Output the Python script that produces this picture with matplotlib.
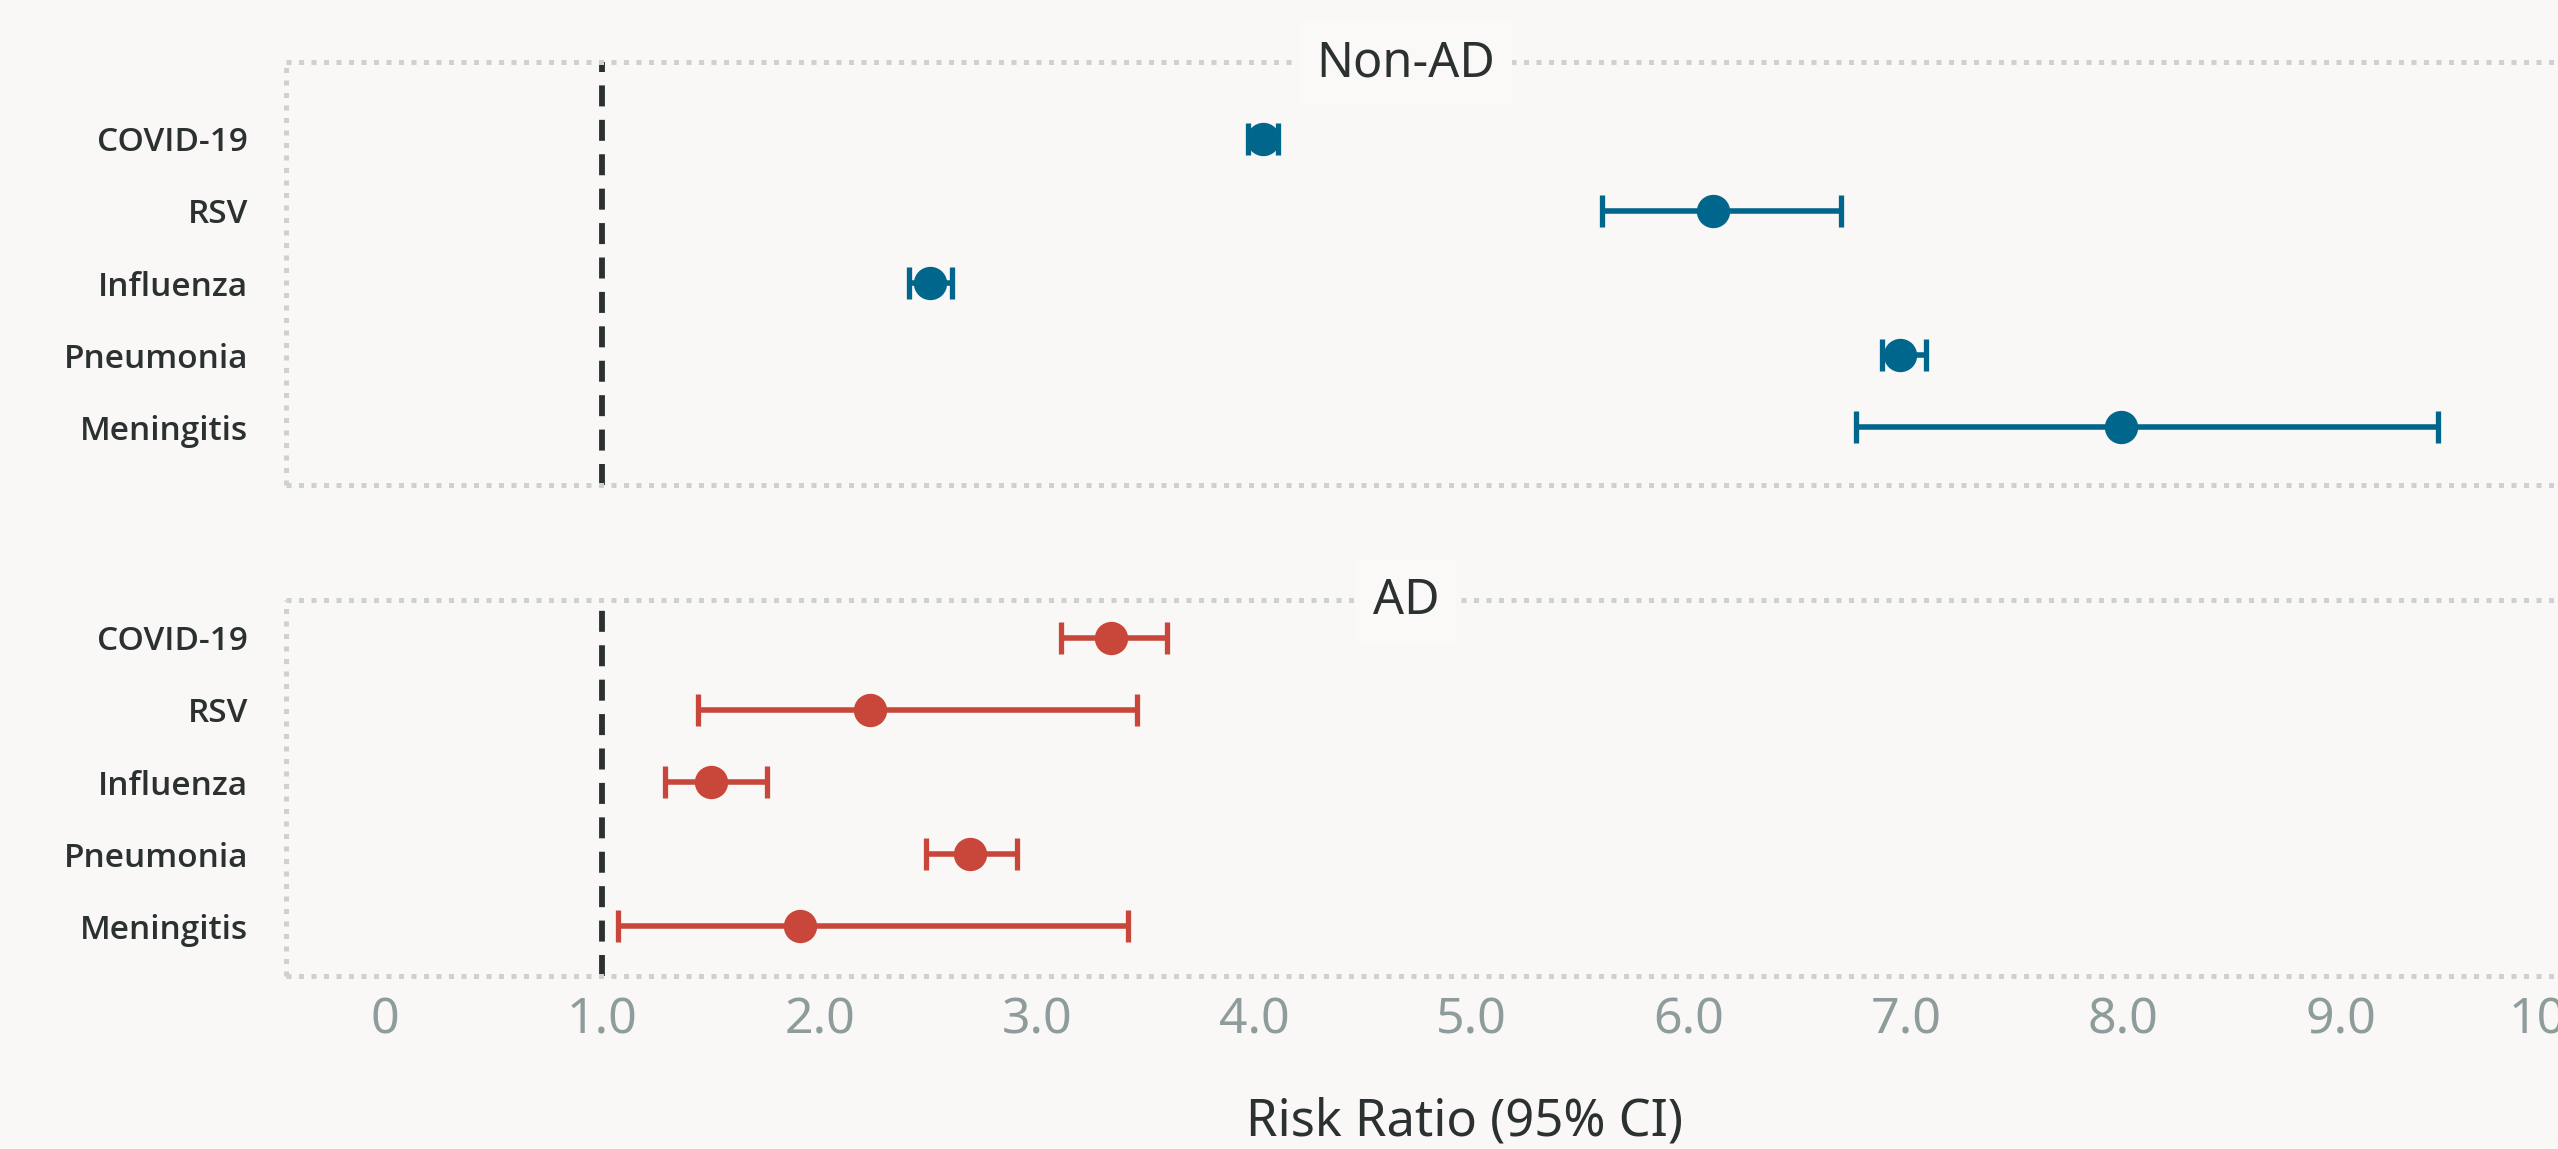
import numpy as np
import matplotlib
matplotlib.use("Agg")
import matplotlib.pyplot as plt

categories = ["COVID-19", "RSV", "Influenza", "Pneumonia", "Meningitis"]
nonad_rr = [4.04, 6.11, 2.51, 6.97, 7.99]
nonad_lo = [3.97, 5.60, 2.41, 6.89, 6.77]
nonad_hi = [4.11, 6.70, 2.61, 7.09, 9.45]
ad_rr = [3.34, 2.23, 1.50, 2.69, 1.91]
ad_lo = [3.11, 1.44, 1.29, 2.49, 1.07]
ad_hi = [3.60, 3.46, 1.76, 2.91, 3.42]
xticks = [0, 1, 2, 3, 4, 5, 6, 7, 8, 9, 10]
xticklabels = ["0", "1.0", "2.0", "3.0", "4.0", "5.0", "6.0", "7.0", "8.0", "9.0", "10.0"]
panel_titles = ["Non-AD", "AD"]

BG = "#F9F8F7"
BLUE = "#00668C"
RED = "#C8473A"
DARK = "#2B3030"
GRAYTXT = "#8E9C9C"
DOT = "#CDD1D1"

plt.rcParams['font.family'] = ['Noto Sans', 'DejaVu Sans']

fig = plt.figure(figsize=(25.58, 11.49), dpi=100, facecolor=BG)
left = 285.5 / 2558
ax_top = fig.add_axes([left, 0.5783, 1.0 - left, 0.946 - 0.5783])
ax_bot = fig.add_axes([left, 0.1509, 1.0 - left, 0.4778 - 0.1509])

def draw(ax, rr, lo, hi, color, ylim, title, show_x):
    ax.set_facecolor(BG)
    rr = np.array(rr); lo = np.array(lo); hi = np.array(hi)
    y = np.arange(len(categories))
    ax.axvline(1.0, color=DARK, lw=4.2, dashes=(3.6, 2.3), zorder=1)
    ax.errorbar(rr, y, xerr=[rr - lo, hi - rr], fmt='o', color=color,
                ms=23, elinewidth=4.0, capsize=11.5, capthick=3.8, zorder=3)
    ax.set_xlim(-0.458, 10.0)
    ax.set_ylim(*ylim)
    ax.set_yticks(y)
    ax.set_yticklabels(categories, fontsize=24, fontweight='semibold', color=DARK,
                       family=['Open Sans', 'Lato', 'DejaVu Sans'])
    ax.tick_params(axis='y', length=0, pad=27)
    ax.set_xticks(xticks)
    if show_x:
        ax.set_xticklabels(xticklabels, fontsize=36, color=GRAYTXT)
        ax.tick_params(axis='x', length=0, pad=14)
    else:
        ax.set_xticklabels([])
        ax.tick_params(axis='x', length=0)
    for side in ['top', 'bottom', 'left']:
        sp = ax.spines[side]
        sp.set_linestyle((0, (1, 1.5)))
        sp.set_linewidth(3.6)
        sp.set_color(DOT)
        sp.set_capstyle('butt')
    ax.spines['right'].set_visible(False)
    ax.text(0.493, 0.997, title, transform=ax.transAxes, ha='center', va='center',
            fontsize=35, color=DARK, zorder=5,
            bbox=dict(boxstyle='square,pad=0.35', facecolor='#FBF9F8', edgecolor='none'))

draw(ax_top, nonad_rr, nonad_lo, nonad_hi, BLUE, (4.79, -1.06), panel_titles[0], False)
draw(ax_bot, ad_rr, ad_lo, ad_hi, RED, (4.68, -0.52), panel_titles[1], True)

fig.text(1465 / 2558, 1 - 1122 / 1149, "Risk Ratio (95% CI)", ha='center', va='center',
         fontsize=36.5, color=DARK)

fig.savefig("out.png", dpi=100, facecolor=BG)
